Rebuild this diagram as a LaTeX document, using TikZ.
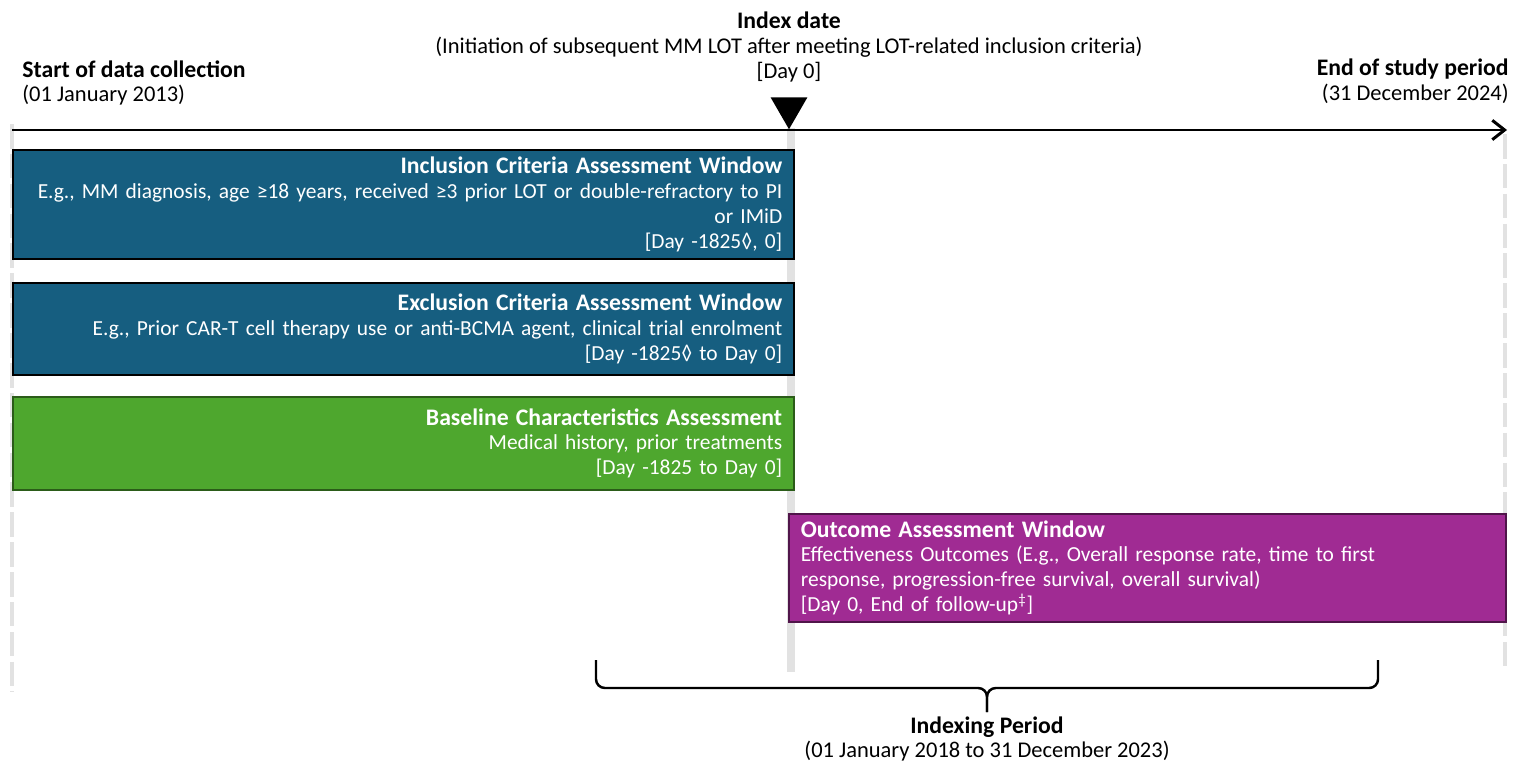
\documentclass[tikz,border=0pt]{standalone}
\usepackage{fontspec}
\setmainfont{Carlito}
\usetikzlibrary{arrows.meta,shapes.geometric}

\definecolor{critblue}{RGB}{22,94,128}
\definecolor{basegreen}{RGB}{78,167,46}
\definecolor{outpurple}{RGB}{160,43,147}
\definecolor{guidegray}{RGB}{226,226,226}

\newcommand{\headtxt}[1]{{\fontsize{13.5}{14.2}\selectfont\bfseries #1}}

\begin{document}
\begin{tikzpicture}[x=0.02cm, y=-0.02cm,
    every node/.style={font=\fontsize{12.8}{14.2}\selectfont},
    label/.style={inner sep=0pt},
    window/.style={draw=black, line width=1pt, text=white, inner xsep=0.23cm, inner ysep=0pt,
                   anchor=north west, font=\fontsize{12.2}{14.2}\selectfont},
    guide/.style={guidegray, line width=2pt, dash pattern=on 14pt off 3pt},
    timeline/.style={black, line width=1.7pt, -{Straight Barb[length=7pt,width=11pt,line width=1.7pt]}}
]
    \useasboundingbox (0,0) rectangle (1514,763);

    % guides
    \coordinate (lefttop) at (12,124);
    \coordinate (leftfoot) at (12,692);
    \coordinate (righttop) at (1505,134);
    \coordinate (rightfoot) at (1505,670);
    \coordinate (idxtop) at (791,128);
    \coordinate (idxfoot) at (791,672);
    \draw[guide] (lefttop) -- (leftfoot);
    \draw[guide] (righttop) -- (rightfoot);
    \draw[guidegray, line width=4.5pt] (idxtop) -- (idxfoot);

    % time axis
    \coordinate (tstart) at (12,130);
    \coordinate (tend) at (1507,130);
    \draw[timeline] (tstart) -- (tend);
    \node[regular polygon, regular polygon sides=3, shape border rotate=180, fill=black,
          minimum size=0.85cm, inner sep=0pt] (idxmark) at (789,108) {};

    % labels on top
    \node[label, anchor=west, align=left] (start) at (22,83)
        {\headtxt{Start of data collection}\\(01 January 2013)};
    \node[label, align=center] (idx) at (789,47)
        {\headtxt{Index date}\\(Initiation of subsequent MM LOT after meeting LOT-related inclusion criteria)\\{}[Day 0]};
    \node[label, anchor=east, align=right] (stop) at (1509,81)
        {\headtxt{End of study period}\\(31 December 2024)};

    % windows
    \node[window, fill=critblue, minimum width=15.62cm, minimum height=2.18cm,
          text width=15.16cm, align=right] (incl) at (12,149)
        {\headtxt{Inclusion Criteria Assessment Window}\\
         E.g., MM diagnosis, age ≥18 years, received ≥3 prior LOT or double-refractory to PI\\
         or IMiD\\
         {}[Day -1825◊, 0]};
    \node[window, fill=critblue, minimum width=15.62cm, minimum height=1.84cm,
          text width=15.16cm, align=right] (excl) at (12,282)
        {\headtxt{Exclusion Criteria Assessment Window}\\
         E.g., Prior CAR-T cell therapy use or anti-BCMA agent, clinical trial enrolment\\
         {}[Day -1825◊ to Day 0]};
    \node[window, fill=basegreen, draw=basegreen!55!black, minimum width=15.62cm, minimum height=1.86cm,
          text width=15.16cm, align=right] (base) at (12,396)
        {\headtxt{Baseline Characteristics Assessment}\\
         Medical history, prior treatments\\
         {}[Day -1825 to Day 0]};
    \node[window, fill=outpurple, draw=outpurple!50!black, minimum width=14.34cm, minimum height=2.16cm,
          text width=13.86cm, align=left] (outc) at (788,513)
        {\headtxt{Outcome Assessment Window}\\
         Effectiveness Outcomes (E.g., Overall response rate, time to first\\
         response, progression-free survival, overall survival)\\
         {}[Day 0, End of follow-up\textsuperscript{‡}]};

    % indexing period
    \coordinate (brL) at (596,660);
    \coordinate (brR) at (1378,660);
    \coordinate (brMid) at (987,688);
    \coordinate (brTip) at (987,712);
    \draw[line width=1.4pt, rounded corners=5pt] (brL) -- (brL |- brMid) -- (brMid) -- (brTip);
    \draw[line width=1.4pt, rounded corners=5pt] (brR) -- (brR |- brMid) -- (brMid) -- (brTip);
    \node[label, align=center] (idxper) at (987,739)
        {\headtxt{Indexing Period}\\(01 January 2018 to 31 December 2023)};
\end{tikzpicture}
\end{document}
